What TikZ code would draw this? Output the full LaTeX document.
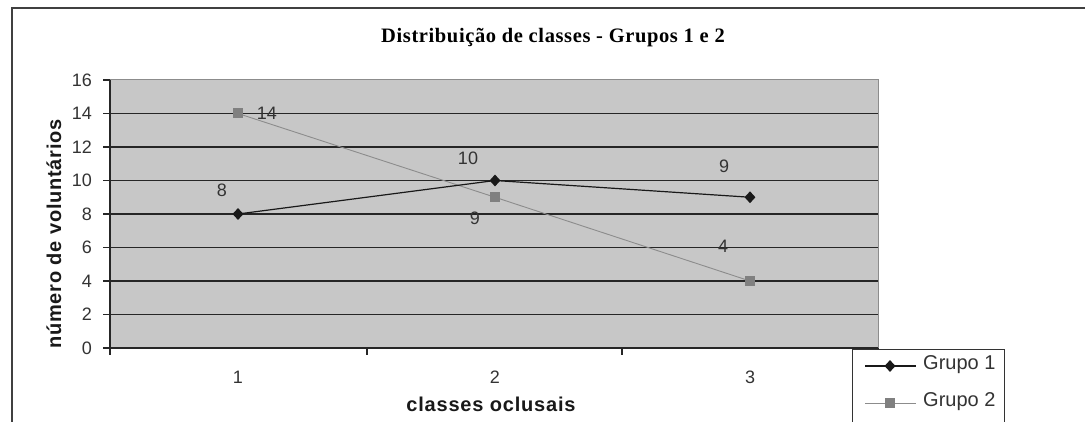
\documentclass[tikz,border=0pt]{standalone}
\usepackage{fontspec}
\setmainfont{Liberation Sans}
\newfontfamily\titlefont[LetterSpace=3]{Liberation Serif}
\newfontfamily\labfont[LetterSpace=4]{Liberation Sans}
\usetikzlibrary{shapes.geometric}
\begin{document}
\begin{tikzpicture}[x=1pt,y=-1pt,
  numlab/.style={font=\fontsize{18}{20}\selectfont, text=black!80, inner sep=0pt},
  leglab/.style={font=\fontsize{20}{22}\selectfont, text=black!80, inner sep=0pt},
  axlab/.style={font=\labfont\bfseries\fontsize{20}{22}\selectfont, text=black!90, inner sep=0pt},
  gridline/.style={draw=black!85, line width=1.4pt},
  axisline/.style={draw=black!85, line width=1.2pt},
  g1mark/.style={diamond, fill=black!90, minimum width=11pt, minimum height=12pt, inner sep=0pt},
  g2mark/.style={rectangle, fill=black!50, minimum size=10pt, inner sep=0pt},
  g1line/.style={draw=black!90, line width=1.2pt},
  g2line/.style={draw=black!45, line width=0.9pt},
  frame/.style={draw=black!75, line width=1.5pt}]
\useasboundingbox (0,0) rectangle (1085,422);
\fill[white] (0,0) rectangle (1085,422);
% outer frame
\draw[frame] (12,430) -- (12,8) -- (1090,8);
% title
\node[font=\titlefont\bfseries\fontsize{20.5}{23}\selectfont, inner sep=0pt] (title) at (553,38) {Distribuição de classes - Grupos 1 e 2};
% plot area
\fill[black!22] (110,80) rectangle (878,348);
\foreach \v in {2,4,...,14} {
  \draw[gridline] (110,{348-16.75*\v}) -- (878,{348-16.75*\v});
}
\draw[draw=black!45, line width=1pt] (110,80) -- (878,80) -- (878,348);
\draw[axisline] (110,80) -- (110,348) -- (878,348);
% y ticks and labels
\foreach \v in {0,2,...,16} {
  \draw[axisline] (103,{348-16.75*\v}) -- (110,{348-16.75*\v});
  \node[numlab, anchor=east] (yt\v) at (92,{348-16.75*\v}) {\v};
}
% x ticks
\foreach \x in {110,367,622,878} {
  \draw[axisline] (\x,348) -- (\x,355);
}
\node[numlab] (xt1) at (238,377) {1};
\node[numlab] (xt2) at (495,377) {2};
\node[numlab] (xt3) at (750,377) {3};
% axis labels
\node[axlab] (xlabel) at (491,404) {classes oclusais};
\node[axlab, rotate=90] (ylabel) at (54,234) {número de voluntários};
% Grupo 2 series
\node[g2mark] (b1) at (238,{348-16.75*14}) {};
\node[g2mark] (b2) at (495,{348-16.75*9}) {};
\node[g2mark] (b3) at (750,{348-16.75*4}) {};
\draw[g2line] (b1.center) -- (b2.center) -- (b3.center);
\node[g2mark] at (b1) {};
\node[g2mark] at (b2) {};
\node[g2mark] at (b3) {};
% Grupo 1 series
\node[g1mark] (a1) at (238,{348-16.75*8}) {};
\node[g1mark] (a2) at (495,{348-16.75*10}) {};
\node[g1mark] (a3) at (750,{348-16.75*9}) {};
\draw[g1line] (a1.center) -- (a2.center) -- (a3.center);
% data labels
\node[numlab] (la1) at (222,190) {8};
\node[numlab] (la2) at (468,158) {10};
\node[numlab] (la3) at (724,166) {9};
\node[numlab] (lb1) at (267,113) {14};
\node[numlab] (lb2) at (475,218) {9};
\node[numlab] (lb3) at (723,246) {4};
% legend
\fill[white] (852,349) rectangle (1004,430);
\draw[draw=black!80, line width=1pt] (852,430) -- (852,349) -- (1004,349) -- (1004,430);
\coordinate (l1s) at (865,366);
\coordinate (l1e) at (916,366);
\coordinate (l2s) at (865,403);
\coordinate (l2e) at (916,403);
\draw[g1line] (l1s) -- (l1e);
\node[g1mark] (lm1) at (890,366) {};
\draw[g2line] (l2s) -- (l2e);
\node[g2mark] (lm2) at (890,403) {};
\node[leglab, anchor=west] (lt1) at (923,365) {Grupo 1};
\node[leglab, anchor=west] (lt2) at (923,402) {Grupo 2};
\end{tikzpicture}
\end{document}
